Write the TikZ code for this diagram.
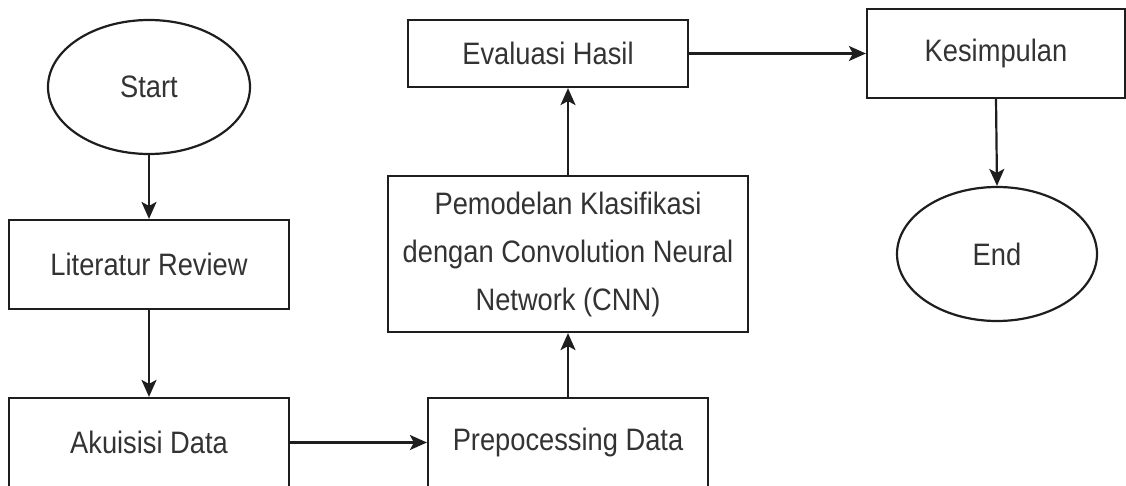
\documentclass[tikz,border=0pt]{standalone}
\usepackage{fontspec}
\setmainfont{Liberation Sans}[FakeStretch=0.88]
\usetikzlibrary{shapes.geometric,arrows.meta}
\definecolor{ink}{HTML}{1E1E1E}
\definecolor{txt}{HTML}{333333}
\begin{document}
\begin{tikzpicture}[x=1pt,y=-1pt,
  every node/.style={font=\fontsize{31}{48}\selectfont, text=txt, align=center, inner sep=0pt},
  procbox/.style={draw=ink, line width=2.2pt, rectangle},
  terminal/.style={draw=ink, line width=2.2pt, ellipse, minimum width=202pt, minimum height=134pt},
  flow/.style={draw=ink, line width=2.2pt, -{Stealth[length=17pt,width=15pt,inset=4pt]}}]
\useasboundingbox (0,0) rectangle (1126,486);
% terminals
\node[terminal] (start) at (149,87) {Start};
\node[terminal, minimum width=200pt] (end) at (997,254) {End};
% process steps
\node[procbox, minimum width=280pt, minimum height=89pt] (lit) at (149,264.5) {Literatur Review};
\node[procbox, minimum width=280pt, minimum height=89pt] (aku) at (149,442.5) {Akuisisi Data};
\node[procbox, minimum width=280pt, minimum height=89pt] (prep) at (568,442.5) {Prepocessing Data};
\node[procbox, minimum width=360pt, minimum height=156pt] (model) at (568,254)
  {Pemodelan Klasifikasi\\dengan Convolution Neural\\Network (CNN)};
\node[procbox, minimum width=280pt, minimum height=67pt] (eval) at (548,53.5) {Evaluasi Hasil};
\node[procbox, minimum width=258pt, minimum height=89pt] (kes) at (996,53.5) {Kesimpulan};
% connectors
\draw[flow] (start.south) -- (lit.north);
\draw[flow] (lit.south) -- (aku.north);
\draw[flow] (aku.east) -- (prep.west);
\draw[flow] (prep.north) -- (model.south);
\draw[flow] (model.north) -- (model.north |- eval.south);
\draw[flow] (eval.east) -- (kes.west);
\draw[flow] (kes.south) -- (end.north);
\end{tikzpicture}
\end{document}
